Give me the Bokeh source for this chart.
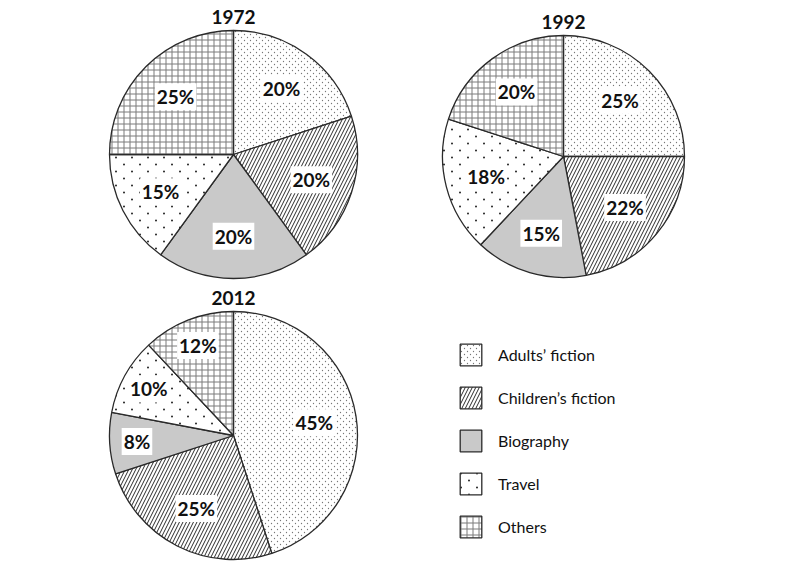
import base64
import numpy as np
from bokeh.plotting import figure
from bokeh.models import ColumnDataSource, Range1d, ImageURLTexture
from bokeh.core.properties import value
from bokeh.embed import file_html
from bokeh.resources import INLINE

# ---- data ----
categories = ["Adults\u2019 fiction", "Children\u2019s fiction", "Biography", "Travel", "Others"]
years = ["1972", "1992", "2012"]
share_1972 = [20, 20, 20, 15, 25]
share_1992 = [25, 22, 15, 18, 20]
share_2012 = [45, 25, 8, 10, 12]
shares = [share_1972, share_1992, share_2012]

# ---- layout / style ----
centers = [(233, 417), (563, 415), (233, 136)]
radii = [124, 121, 124]
fill_colors = ["white", "white", "#c9c9c9", "white", "white"]
hatch_patterns = ["fine_dots", "right_diagonal_line", " ", "sparse_dots", "cross"]
hatch_scales = [5, 7, 7, 10, 6]
hatch_colors = ["#8a8a8a", "#2a2a2a", "#333333", "#222222", "#7a7a7a"]
hatch_weights = [0.9, 1.0, 1.0, 0.4, 1.0]


def svg_tile(w, h, dots, r, color):
    circles = "".join(f'<circle cx="{x}" cy="{y}" r="{r}" fill="{color}"/>' for x, y in dots)
    svg = (f'<svg xmlns="http://www.w3.org/2000/svg" width="{w}" height="{h}">'
           f'<rect width="{w}" height="{h}" fill="white" fill-opacity="0"/>{circles}</svg>')
    return "data:image/svg+xml;base64," + base64.b64encode(svg.encode()).decode()


textures = {
    "fine_dots": ImageURLTexture(url=svg_tile(6, 6, [(1.5, 1.5), (4.5, 4.5)], 0.65, "#777777")),
    "sparse_dots": ImageURLTexture(url=svg_tile(16, 14, [(4, 3.5), (12, 10.5)], 0.95, "#1a1a1a")),
}

rows = dict(x=[], y=[], r=[], start=[], end=[], cat=[], fill=[], hp=[], hs=[], hc=[], hw=[])
lab = dict(x=[], y=[], text=[])
for (cx, cy), r, vals in zip(centers, radii, shares):
    total = float(sum(vals))
    cum = 0.0
    for i, v in enumerate(vals):
        a0 = np.pi / 2 - 2 * np.pi * cum / total
        a1 = np.pi / 2 - 2 * np.pi * (cum + v) / total
        amid = (a0 + a1) / 2
        rows["x"].append(cx); rows["y"].append(cy); rows["r"].append(r)
        rows["start"].append(a0); rows["end"].append(a1)
        rows["cat"].append(categories[i]); rows["fill"].append(fill_colors[i])
        rows["hp"].append(hatch_patterns[i]); rows["hs"].append(hatch_scales[i])
        rows["hc"].append(hatch_colors[i]); rows["hw"].append(hatch_weights[i])
        f = 0.66 if v >= 15 else 0.78
        lab["x"].append(cx + f * r * np.cos(amid))
        lab["y"].append(cy + f * r * np.sin(amid))
        lab["text"].append(f"{v}%")
        cum += v

titles = dict(x=[c[0] for c in centers], y=[c[1] + r + 14 for c, r in zip(centers, radii)], text=years)

p = figure(width=800, height=571, x_range=Range1d(0, 800), y_range=Range1d(0, 571),
           toolbar_location=None, output_backend="svg", min_border=0)
p.axis.visible = False
p.grid.visible = False
p.outline_line_color = None
p.background_fill_color = "white"
p.border_fill_color = "white"

src = ColumnDataSource(rows)
wr = p.wedge(x="x", y="y", radius="r", start_angle="start", end_angle="end", direction="clock",
             source=src, fill_color="fill", line_color="#2a2a2a", line_width=1.3,
             hatch_pattern="hp", hatch_scale="hs", hatch_color="hc", hatch_weight="hw",
             hatch_extra=textures, legend_field="cat")

p.text(x="x", y="y", text="text", source=ColumnDataSource(lab), text_align="center",
       text_baseline="middle", text_font=value("Lato"), text_font_style="bold",
       text_font_size="19px", text_color="#111111", background_fill_color="white", padding=2)

p.text(x="x", y="y", text="text", source=ColumnDataSource(titles), text_align="center",
       text_baseline="middle", text_font=value("Lato"), text_font_style="bold",
       text_font_size="19px", text_color="#111111")

leg = p.legend[0]
leg.location = (457, 31)
leg.padding = 0
leg.margin = 0
leg.glyph_width = 27
leg.glyph_height = 27
leg.spacing = 16
leg.label_standoff = 14
leg.label_text_font = "Lato"
leg.label_text_font_size = "16px"
leg.label_text_color = "#111111"
leg.border_line_color = None
leg.background_fill_alpha = 0

open("out.html", "w").write(file_html(p, INLINE))
